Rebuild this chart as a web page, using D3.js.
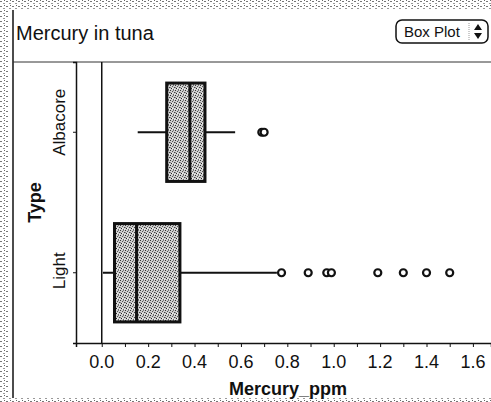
<!DOCTYPE html>
<html>
<head>
<meta charset="utf-8">
<script src="https://cdn.jsdelivr.net/npm/d3@7"></script>
<style>
  body { margin: 0; background: #fff; }
  svg { display: block; font-family: "Liberation Sans", Arial, sans-serif; }
</style>
</head>
<body>
<svg id="chart" width="491" height="402"></svg>
<script>
// values
var types = ["Albacore", "Light"];
var q1 = [0.28, 0.055];
var medians = [0.38, 0.15];
var q3 = [0.445, 0.337];
var whiskerLo = [0.155, 0.005];
var whiskerHi = [0.575, 0.755];
var outliers = [
    [0.69, 0.70],
    [0.775, 0.89, 0.97, 0.99, 1.19, 1.30, 1.40, 1.50]
];
var xTicks = [0, 0.2, 0.4, 0.6, 0.8, 1.0, 1.2, 1.4, 1.6];

var svg = d3.select("svg#chart");
var svgWidth = +svg.attr("width");
var svgHeight = +svg.attr("height");

var margin = {top: 62, right: 0, bottom: 59, left: 76};
var plotBottom = svgHeight - margin.bottom;

// patterns: stipple for boxes, speckle for the scanned border
var defs = svg.append("defs");
var stip = defs.append("pattern").attr("id", "stipple")
    .attr("patternUnits", "userSpaceOnUse").attr("width", 5).attr("height", 5);
stip.append("rect").attr("width", 5).attr("height", 5).attr("fill", "#cfcfcf");
[[0, 0, "#333"], [2, 1, "#555"], [4, 2, "#444"], [1, 3, "#222"], [3, 4, "#666"], [3, 0, "#777"], [0, 2, "#888"], [2, 3, "#f4f4f4"], [4, 4, "#eee"]]
    .forEach(function(p) {
        stip.append("rect").attr("x", p[0]).attr("y", p[1]).attr("width", 1).attr("height", 1).attr("fill", p[2]);
    });

var speck = defs.append("pattern").attr("id", "speck")
    .attr("patternUnits", "userSpaceOnUse").attr("width", 6).attr("height", 5);
speck.append("rect").attr("width", 6).attr("height", 5).attr("fill", "#fff");
speck.append("rect").attr("x", 0).attr("y", 1).attr("width", 2).attr("height", 1).attr("fill", "#777");
speck.append("rect").attr("x", 3).attr("y", 3).attr("width", 2).attr("height", 1).attr("fill", "#999");
speck.append("rect").attr("x", 4).attr("y", 0).attr("width", 1).attr("height", 1).attr("fill", "#666");

// scanned window edges
svg.append("rect").attr("x", 0).attr("y", 0).attr("width", svgWidth).attr("height", 9).attr("fill", "url(#speck)");
svg.append("rect").attr("x", 0).attr("y", 0).attr("width", 8).attr("height", svgHeight).attr("fill", "url(#speck)");
svg.append("rect").attr("x", 0).attr("y", svgHeight - 4).attr("width", svgWidth).attr("height", 4).attr("fill", "url(#speck)");
svg.append("line").attr("x1", 13).attr("x2", 13).attr("y1", 10).attr("y2", svgHeight - 4)
    .attr("stroke", "#111").attr("stroke-width", 1.5);
svg.append("line").attr("x1", 13).attr("x2", svgWidth).attr("y1", margin.top).attr("y2", margin.top)
    .attr("stroke", "#333").attr("stroke-width", 1);

// title + dropdown
svg.append("text").attr("x", 16).attr("y", 40).text("Mercury in tuna")
    .style("font-size", "20px").attr("fill", "#111");
var dd = svg.append("g").attr("transform", "translate(396,20)");
dd.append("rect").attr("width", 92).attr("height", 23).attr("rx", 6).attr("ry", 6)
    .attr("fill", "#fff").attr("stroke", "#111").attr("stroke-width", 1.5);
dd.append("text").attr("x", 8).attr("y", 17).text("Box Plot").style("font-size", "15px").attr("fill", "#111");
dd.append("path").attr("d", "M78,10 L82,4 L86,10 Z").attr("fill", "#111");
dd.append("path").attr("d", "M78,13 L82,19 L86,13 Z").attr("fill", "#111");
dd.append("line").attr("x1", 73).attr("x2", 73).attr("y1", 3).attr("y2", 20).attr("stroke", "#999").attr("stroke-dasharray", "1,1");

// scales
var x = d3.scaleLinear().domain([-0.111, 1.678]).range([margin.left, svgWidth]);
var y = d3.scaleBand().domain(types).range([margin.top, plotBottom]);

// x axis
var xAxis = svg.append("g").attr("transform", "translate(0," + plotBottom + ")")
    .call(d3.axisBottom(x).tickValues(d3.range(0, 1.65, 0.1)).tickSize(4).tickFormat(""));
xAxis.select(".domain").attr("stroke", "#111").attr("stroke-width", 1.5);
xAxis.selectAll(".tick line").attr("stroke", "#111");
svg.append("g").selectAll("text").data(xTicks).enter().append("text")
    .attr("x", function(d) { return x(d); })
    .attr("y", plotBottom + 25)
    .attr("text-anchor", "middle")
    .style("font-size", "18px").attr("fill", "#111")
    .text(function(d) { return d3.format(".1f")(d); });
svg.append("text").attr("x", 288).attr("y", plotBottom + 52).attr("text-anchor", "middle")
    .style("font-size", "18px").style("font-weight", "bold").attr("fill", "#111").text("Mercury_ppm");

// y axis
var yAxis = svg.append("g").attr("transform", "translate(" + margin.left + ",0)")
    .call(d3.axisLeft(y).tickSize(3).tickFormat(""));
yAxis.select(".domain").attr("stroke", "#111").attr("stroke-width", 1.5);
yAxis.selectAll(".tick line").attr("stroke", "#111");
// the scanned labels sit a little above the band centres
var labelShift = {Albacore: -10, Light: -2};
svg.append("g").selectAll("text").data(types).enter().append("text")
    .attr("transform", function(d) {
        return "translate(65," + (y(d) + y.bandwidth() / 2 + labelShift[d]) + ") rotate(-90)";
    })
    .attr("text-anchor", "middle")
    .style("font-size", "17px").attr("fill", "#111")
    .text(function(d) { return d; });
svg.append("text").attr("transform", "translate(41," + ((margin.top + plotBottom) / 2) + ") rotate(-90)")
    .attr("text-anchor", "middle").style("font-size", "18px").style("font-weight", "bold")
    .attr("fill", "#111").text("Type");

// zero line
svg.append("line").attr("x1", x(0)).attr("x2", x(0)).attr("y1", margin.top).attr("y2", plotBottom)
    .attr("stroke", "#111").attr("stroke-width", 1.5);

// boxes
var boxH = y.bandwidth() * 0.7;
var groups = svg.selectAll(".box").data(types).enter().append("g").attr("class", "box");

groups.append("line")
    .attr("x1", function(d, i) { return x(whiskerLo[i]); })
    .attr("x2", function(d, i) { return x(whiskerHi[i]); })
    .attr("y1", function(d) { return y(d) + y.bandwidth() / 2; })
    .attr("y2", function(d) { return y(d) + y.bandwidth() / 2; })
    .attr("stroke", "#111").attr("stroke-width", 2);

groups.append("rect")
    .attr("x", function(d, i) { return x(q1[i]); })
    .attr("width", function(d, i) { return x(q3[i]) - x(q1[i]); })
    .attr("y", function(d) { return y(d) + (y.bandwidth() - boxH) / 2; })
    .attr("height", boxH)
    .attr("fill", "url(#stipple)").attr("stroke", "#111").attr("stroke-width", 3);

groups.append("line")
    .attr("x1", function(d, i) { return x(medians[i]); })
    .attr("x2", function(d, i) { return x(medians[i]); })
    .attr("y1", function(d) { return y(d) + (y.bandwidth() - boxH) / 2; })
    .attr("y2", function(d) { return y(d) + (y.bandwidth() + boxH) / 2; })
    .attr("stroke", "#111").attr("stroke-width", 3);

groups.each(function(d, i) {
    d3.select(this).selectAll("circle").data(outliers[i]).enter().append("circle")
        .attr("cx", function(v) { return x(v); })
        .attr("cy", y(d) + y.bandwidth() / 2)
        .attr("r", 3.5)
        .attr("fill", "#fff").attr("stroke", "#111").attr("stroke-width", 2.2);
});
</script>
</body>
</html>
